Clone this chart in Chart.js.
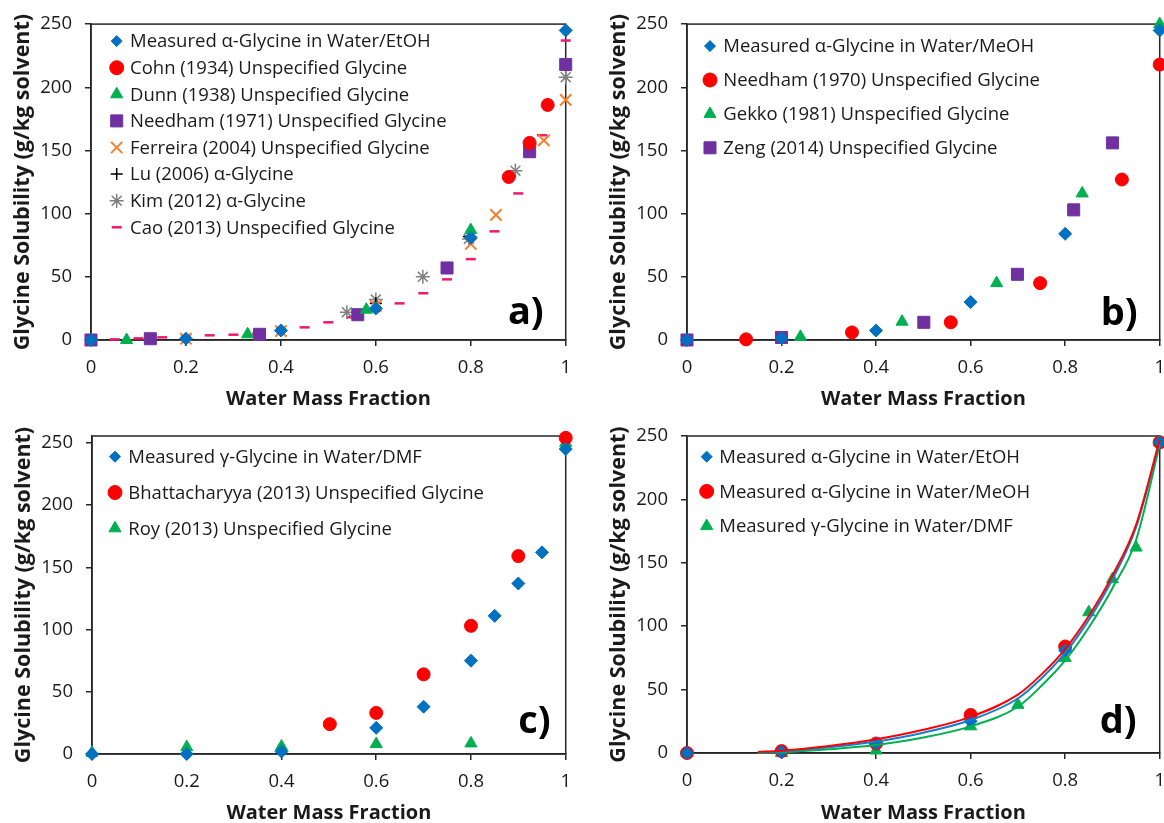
<!DOCTYPE html>
<html>
<head>
<meta charset="utf-8">
<title>Glycine solubility</title>
<script src="https://cdn.jsdelivr.net/npm/chart.js@4.4.1/dist/chart.umd.min.js"></script>
<style>
  html, body { margin: 0; padding: 0; background: #fff; overflow: hidden; width: 1164px; height: 823px; }
  canvas { position: absolute; }
</style>
</head>
<body>
<canvas id="chartA" width="582" height="411" style="left:0;top:0"></canvas>
<canvas id="chartB" width="594" height="411" style="left:582px;top:0"></canvas>
<canvas id="chartC" width="582" height="414" style="left:0;top:411px"></canvas>
<canvas id="chartD" width="594" height="414" style="left:582px;top:411px"></canvas>
<script>
// axis ticks
const xTickValues = [0, 0.2, 0.4, 0.6, 0.8, 1];
const xTickLabels = ['0', '0.2', '0.4', '0.6', '0.8', '1'];
const yTickValues = [0, 50, 100, 150, 200, 250];
const yTickLabels = ['0', '50', '100', '150', '200', '250'];

// a) water / ethanol
const etohX = [0, 0.2, 0.4, 0.6, 0.8, 1];
const etohY = [0, 1, 7.5, 25, 81, 245];
const cohnX = [0.88, 0.924, 0.962];
const cohnY = [129, 156, 186];
const dunnX = [0.075, 0.33, 0.58, 0.8];
const dunnY = [0, 4.5, 24, 87];
const needham71X = [0, 0.125, 0.355, 0.562, 0.75, 0.924, 1];
const needham71Y = [0, 1, 4.5, 20, 57, 149, 218];
const ferreiraX = [0, 0.2, 0.4, 0.6, 0.8, 0.853, 0.954, 1];
const ferreiraY = [0, 1, 7, 27, 76, 99, 158, 190];
const luX = [0.6, 0.796];
const luY = [29, 82];
const kimX = [0.539, 0.6, 0.699, 0.796, 0.894, 1];
const kimY = [22, 32, 50, 80, 134, 208];
const caoX = [0, 0.05, 0.1, 0.15, 0.2, 0.25, 0.3, 0.35, 0.4, 0.45, 0.5, 0.55, 0.6, 0.65, 0.7, 0.75, 0.8, 0.85, 0.9, 0.95, 1];
const caoY = [0, 0.5, 1.3, 2.1, 2.8, 3.7, 4.2, 5, 7, 10, 14, 18, 23, 29, 37, 48, 64, 86, 116, 162, 237];

// b) water / methanol
const meohX = [0, 0.2, 0.4, 0.6, 0.8, 1];
const meohY = [0, 1.5, 7.5, 30, 84, 245];
const needham70X = [0.125, 0.349, 0.558, 0.747, 0.92, 1];
const needham70Y = [0.5, 6, 14, 45, 127, 218];
const gekkoX = [0.24, 0.455, 0.655, 0.836, 1];
const gekkoY = [2.5, 14.5, 45, 116, 250];
const zengX = [0, 0.2, 0.501, 0.699, 0.818, 0.9];
const zengY = [0, 2, 14, 52, 103, 156];

// c) water / DMF
const dmfX = [0, 0.2, 0.4, 0.6, 0.7, 0.8, 0.85, 0.9, 0.95, 1];
const dmfY = [0, 0, 2, 21, 38, 75, 111, 137, 162, 245];
const bhatX = [0.502, 0.6, 0.7, 0.8, 0.9, 1];
const bhatY = [24, 33, 64, 103, 159, 254];
const royX = [0, 0.2, 0.4, 0.6, 0.8, 1];
const royY = [1, 5.5, 6, 8, 8.5, 250];

// d) fitted curves
const fitX = [0.15, 0.2, 0.3, 0.4, 0.5, 0.6, 0.7, 0.75, 0.8, 0.85, 0.9, 0.95, 1];
const fitEtohY = [0.5, 1.3, 4.5, 9, 16, 26, 43, 59, 79, 105, 137, 178, 246];
const fitMeohY = [0.8, 1.8, 5.5, 10.8, 18.3, 28.5, 46, 62, 82, 108, 140, 180, 247];
const fitDmfY = [0, 0.5, 2.9, 6.3, 12.2, 21, 36.5, 53, 73, 99, 130, 168, 243];

const BLUE = '#0070C0', RED = '#FF0000', GREEN = '#00B050', PURPLE = '#7030A0';
const ORANGE = '#F57F2A', PINK = '#F0196E', GREY = '#808080', INK = '#1a1a1a';
const FONT = "'Open Sans', sans-serif";

Chart.defaults.font.family = FONT;
Chart.defaults.color = INK;

function pts(xs, ys) {
  return xs.map((x, i) => ({ x: x, y: ys[i] }));
}

function marker(label, xs, ys, color, style, radius, extra) {
  return Object.assign({
    label: label,
    data: pts(xs, ys),
    pointStyle: style,
    pointRadius: radius,
    pointBackgroundColor: color,
    pointBorderColor: color,
    pointBorderWidth: 1,
    backgroundColor: color,
    borderColor: color,
    showLine: false,
    clip: false
  }, extra || {});
}

function curve(xs, ys, color) {
  return {
    label: '',
    data: pts(xs, ys),
    inLegend: false,
    showLine: true,
    pointRadius: 0,
    borderColor: color,
    backgroundColor: color,
    borderWidth: 2,
    cubicInterpolationMode: 'monotone',
    fill: false,
    clip: false
  };
}

// legend drawn inside the plot area, like the spreadsheet original
const insideLegend = {
  id: 'insideLegend',
  afterDatasetsDraw(chart, args, opts) {
    const { ctx, chartArea } = chart;
    ctx.save();
    ctx.textBaseline = 'middle';
    ctx.textAlign = 'left';
    ctx.font = opts.fontSize + 'px ' + FONT;
    let row = 0;
    chart.data.datasets.forEach(ds => {
      if (ds.inLegend === false) return;
      const y = chartArea.top + opts.top + row * opts.gap;
      const x = chartArea.left + opts.marker;
      ctx.fillStyle = ds.pointBackgroundColor;
      ctx.strokeStyle = ds.pointBorderColor;
      ctx.lineWidth = ds.pointBorderWidth;
      Chart.helpers.drawPoint(ctx, {
        pointStyle: ds.pointStyle,
        radius: ds.legendRadius || ds.pointRadius,
        borderWidth: ds.pointBorderWidth,
        rotation: 0
      }, x, y);
      ctx.fillStyle = INK;
      ctx.fillText(ds.label, chartArea.left + opts.text, y + 1);
      row++;
    });
    ctx.restore();
  }
};

// plot frame and the panel letter
const frame = {
  id: 'frame',
  beforeDatasetsDraw(chart) {
    const { ctx, chartArea: a } = chart;
    ctx.save();
    ctx.strokeStyle = '#262626';
    ctx.lineWidth = 1.5;
    ctx.strokeRect(a.left, a.top, a.right - a.left, a.bottom - a.top);
    ctx.restore();
  },
  afterDatasetsDraw(chart, args, opts) {
    const { ctx, chartArea: a } = chart;
    ctx.save();
    ctx.font = 'bold 38px ' + FONT;
    ctx.fillStyle = '#000';
    ctx.textAlign = 'right';
    ctx.textBaseline = 'alphabetic';
    ctx.fillText(opts.letter, a.right - opts.dx, a.bottom - opts.dy);
    ctx.restore();
  }
};

function makeChart(id, panel, datasets) {
  return new Chart(document.getElementById(id), {
    type: 'scatter',
    data: { datasets: datasets },
    plugins: [frame, insideLegend],
    options: {
      responsive: false,
      animation: false,
      events: [],
      layout: { padding: panel.padding },
      plugins: {
        legend: { display: false },
        tooltip: { enabled: false },
        frame: { letter: panel.letter, dx: panel.letterDx, dy: panel.letterDy },
        insideLegend: panel.legend
      },
      scales: {
        x: {
          type: 'linear',
          min: 0,
          max: 1,
          afterBuildTicks: s => { s.ticks = xTickValues.map(v => ({ value: v })); },
          afterFit: s => { s.height = panel.xh; },
          ticks: {
            callback: (v, i) => xTickLabels[i],
            autoSkip: false,
            maxRotation: 0,
            padding: 11,
            color: INK,
            font: { size: 18.5 }
          },
          grid: { drawOnChartArea: false, tickLength: 6, color: '#262626', lineWidth: 1.5 },
          border: { color: '#262626', width: 1.5 },
          title: {
            display: true,
            text: 'Water Mass Fraction',
            color: INK,
            font: { size: 20, weight: 'bold' },
            padding: { top: 0, bottom: 0 }
          }
        },
        y: {
          type: 'linear',
          min: 0,
          max: panel.yMax,
          afterBuildTicks: s => { s.ticks = yTickValues.map(v => ({ value: v })); },
          afterFit: s => { s.width = 91; },
          ticks: {
            callback: (v, i) => yTickLabels[i],
            padding: 13,
            color: INK,
            font: { size: 18.5 }
          },
          grid: { drawOnChartArea: false, tickLength: 6, color: '#262626', lineWidth: 1.5 },
          border: { color: '#262626', width: 1.5 },
          title: {
            display: true,
            text: 'Glycine Solubility (g/kg solvent)',
            color: INK,
            font: { size: 21.5, weight: 'bold' },
            padding: { top: 10, bottom: 0 }
          }
        }
      }
    }
  });
}

makeChart('chartA', {
  padding: { left: 0, top: 23, right: 15, bottom: 0 },
  xh: 71, yMax: 250, letter: 'a)', letterDx: 22, letterDy: 16,
  legend: { marker: 25.7, text: 39, top: 17, gap: 26.6, fontSize: 18.5 }
}, [
  marker('Measured \u03b1-Glycine in Water/EtOH', etohX, etohY, BLUE, 'rectRot', 6.5, { legendRadius: 5.5 }),
  marker('Cohn (1934) Unspecified Glycine', cohnX, cohnY, RED, 'circle', 6.5, { legendRadius: 7 }),
  marker('Dunn (1938) Unspecified Glycine', dunnX, dunnY, GREEN, 'triangle', 7),
  marker('Needham (1971) Unspecified Glycine', needham71X, needham71Y, PURPLE, 'rect', 8.5),
  marker('Ferreira (2004) Unspecified Glycine', ferreiraX, ferreiraY, ORANGE, 'crossRot', 8, { pointBorderWidth: 2 }),
  marker('Lu (2006) \u03b1-Glycine', luX, luY, '#000', 'cross', 6, { pointBorderWidth: 1.5 }),
  marker('Kim (2012) \u03b1-Glycine', kimX, kimY, GREY, 'star', 7, { pointBorderWidth: 1.5 }),
  marker('Cao (2013) Unspecified Glycine', caoX, caoY, PINK, 'line', 5, { pointBorderWidth: 2.5 })
]);

makeChart('chartB', {
  padding: { left: 14, top: 23, right: 14, bottom: 0 },
  xh: 71, yMax: 250, letter: 'b)', letterDx: 22, letterDy: 15,
  legend: { marker: 23, text: 36.3, top: 22, gap: 33.9, fontSize: 18.5 }
}, [
  marker('Measured \u03b1-Glycine in Water/MeOH', meohX, meohY, BLUE, 'rectRot', 6.5, { legendRadius: 5.5 }),
  marker('Needham (1970) Unspecified Glycine', needham70X, needham70Y, RED, 'circle', 6.5, { legendRadius: 7 }),
  marker('Gekko (1981) Unspecified Glycine', gekkoX, gekkoY, GREEN, 'triangle', 7),
  marker('Zeng (2014) Unspecified Glycine', zengX, zengY, PURPLE, 'rect', 8.5)
]);

makeChart('chartC', {
  padding: { left: 1, top: 25, right: 14, bottom: 0 },
  xh: 71, yMax: 255.5, letter: 'c)', letterDx: 15, letterDy: 21,
  legend: { marker: 23, text: 36.3, top: 20.7, gap: 35.8, fontSize: 18.5 }
}, [
  marker('Measured \u03b3-Glycine in Water/DMF', dmfX, dmfY, BLUE, 'rectRot', 6.5, { legendRadius: 5.5 }),
  marker('Bhattacharyya (2013) Unspecified Glycine', bhatX, bhatY, RED, 'circle', 6.5, { legendRadius: 7 }),
  marker('Roy (2013) Unspecified Glycine', royX, royY, GREEN, 'triangle', 7)
]);

makeChart('chartD', {
  padding: { left: 14, top: 25, right: 14, bottom: 0 },
  xh: 72, yMax: 250, letter: 'd)', letterDx: 23, letterDy: 20,
  legend: { marker: 19.7, text: 32.3, top: 20.7, gap: 34.7, fontSize: 18.5 }
}, [
  curve(fitX, fitMeohY, RED),
  curve(fitX, fitEtohY, '#1080D0'),
  curve(fitX, fitDmfY, GREEN),
  marker('Measured \u03b1-Glycine in Water/EtOH', etohX, etohY, BLUE, 'rectRot', 6.5, { legendRadius: 5.5 }),
  marker('Measured \u03b1-Glycine in Water/MeOH', meohX, meohY, RED, 'circle', 6.5, { legendRadius: 7 }),
  marker('Measured \u03b3-Glycine in Water/DMF', dmfX, dmfY, GREEN, 'triangle', 7)
]);
</script>
</body>
</html>
